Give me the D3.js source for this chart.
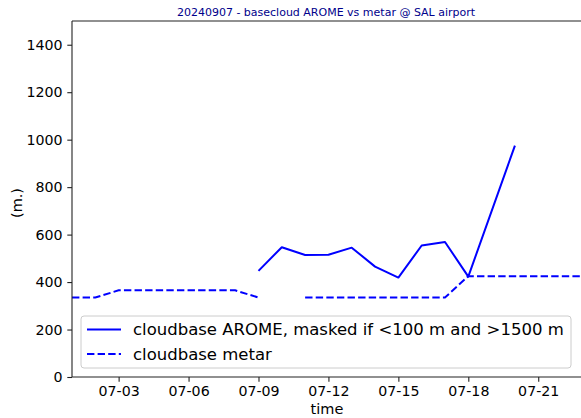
<!DOCTYPE html>
<html><head><meta charset="utf-8">
<script src="https://cdn.jsdelivr.net/npm/d3@7"></script>
<style>body{margin:0;background:#fff}svg{display:block;font-family:"DejaVu Sans",sans-serif}</style>
</head><body><svg id="c" width="581" height="418"></svg>
<script>
const titleText = "20240907 - basecloud AROME vs metar @ SAL airport";
const aromeDates = ["2024-07-09","2024-07-10","2024-07-11","2024-07-12","2024-07-13","2024-07-14","2024-07-15","2024-07-16","2024-07-17","2024-07-18","2024-07-20"];
const aromeValues = [447,547,514,515,545,465,419,554,569,423,975];
const metarDates = ["2024-07-01","2024-07-02","2024-07-03","2024-07-04","2024-07-05","2024-07-06","2024-07-07","2024-07-08","2024-07-09","2024-07-10","2024-07-11","2024-07-12","2024-07-13","2024-07-14","2024-07-15","2024-07-16","2024-07-17","2024-07-18","2024-07-19","2024-07-20","2024-07-21","2024-07-22","2024-07-23"];
const metarValues = [335,335,365,365,365,365,365,365,335,null,335,335,335,335,335,335,335,425,425,425,425,425,425];
const xTickDates = ["2024-07-03","2024-07-06","2024-07-09","2024-07-12","2024-07-15","2024-07-18","2024-07-21"];
const xTickLabels = ["07-03","07-06","07-09","07-12","07-15","07-18","07-21"];
const yTicks = [0,200,400,600,800,1000,1200,1400];
const legendLabels = ["cloudbase AROME, masked if <100 m and >1500 m","cloudbase metar"];

const svg = d3.select("#c");
const m = {left:72, right:580, top:21, bottom:377};
const parse = s => new Date(s + "T00:00:00Z");
const x = d3.scaleUtc().domain([parse("2024-07-01"), new Date(Date.UTC(2024,6,22,19,0))]).range([m.left, m.right]);
const y = d3.scaleLinear().domain([0,1500]).range([m.bottom, m.top]);

svg.append("defs").append("clipPath").attr("id","clip")
  .append("rect").attr("x",m.left).attr("y",m.top).attr("width",600-m.left).attr("height",m.bottom-m.top);

const color = "#0000ff";
const line = d3.line().defined(d => d.v != null).x(d => x(d.d)).y(d => y(d.v));
const metar = metarDates.map((d,i)=>({d:parse(d), v:metarValues[i]}));
const arome = aromeDates.map((d,i)=>({d:parse(d), v:aromeValues[i]}));
const g = svg.append("g").attr("clip-path","url(#clip)");
g.append("path").datum(arome).attr("d",line).attr("fill","none").attr("stroke",color).attr("stroke-width",2).attr("stroke-linejoin","round");
g.append("path").datum(metar).attr("d",line).attr("fill","none").attr("stroke",color).attr("stroke-width",2).attr("stroke-dasharray","7.4,3.2");

// axes
const xAxis = d3.axisBottom(x).tickValues(xTickDates.map(parse)).tickFormat((d,i)=>xTickLabels[i]).tickSizeOuter(0).tickSize(4.7).tickPadding(4.7);
const yAxis = d3.axisLeft(y).tickValues(yTicks).tickFormat(d3.format("d")).tickSizeOuter(0).tickSize(4.7).tickPadding(4.7);
const gx = svg.append("g").attr("transform",`translate(0,${m.bottom})`).call(xAxis);
const gy = svg.append("g").attr("transform",`translate(${m.left},0)`).call(yAxis);
[gx,gy].forEach(a=>{a.select(".domain").remove(); a.selectAll("text").attr("font-size",14.2).attr("fill","#000").attr("font-family","DejaVu Sans"); a.selectAll("line").attr("stroke","#222").attr("stroke-width",1.1);});
// spines (right spine lies just outside the picture)
const sp = svg.append("g").attr("stroke","#222").attr("stroke-width",1.1);
sp.append("line").attr("x1",m.left).attr("x2",m.left).attr("y1",m.top).attr("y2",m.bottom);
sp.append("line").attr("x1",m.left).attr("x2",590).attr("y1",m.top).attr("y2",m.top);
sp.append("line").attr("x1",m.left).attr("x2",590).attr("y1",m.bottom).attr("y2",m.bottom);

svg.append("text").attr("x",(m.left+m.right)/2).attr("y",15.5).attr("text-anchor","middle")
  .attr("font-size",11).attr("fill","#00008b").text(titleText);
svg.append("text").attr("x",(m.left+m.right)/2 + 1).attr("y",414).attr("text-anchor","middle").attr("font-size",14.5).text("time");
svg.append("text").attr("transform",`translate(22,${(m.top+m.bottom)/2 + 4}) rotate(-90)`).attr("text-anchor","middle").attr("font-size",14.5).text("(m.)");

// legend
const lg = svg.append("g");
lg.append("rect").attr("x",81).attr("y",316).attr("width",490).attr("height",52).attr("rx",3)
  .attr("fill","#fff").attr("fill-opacity",0.8).attr("stroke","#cccccc").attr("stroke-width",1);
legendLabels.forEach((t,i)=>{
  const yy = 329.5 + i*24.5;
  lg.append("line").attr("x1",87).attr("x2",121).attr("y1",yy).attr("y2",yy).attr("stroke",color).attr("stroke-width",2)
    .attr("stroke-dasharray", i===1 ? "7.4,3.2" : null);
  lg.append("text").attr("x",133).attr("y",yy+5.8).attr("font-size",16.5).text(t);
});
</script></body></html>
